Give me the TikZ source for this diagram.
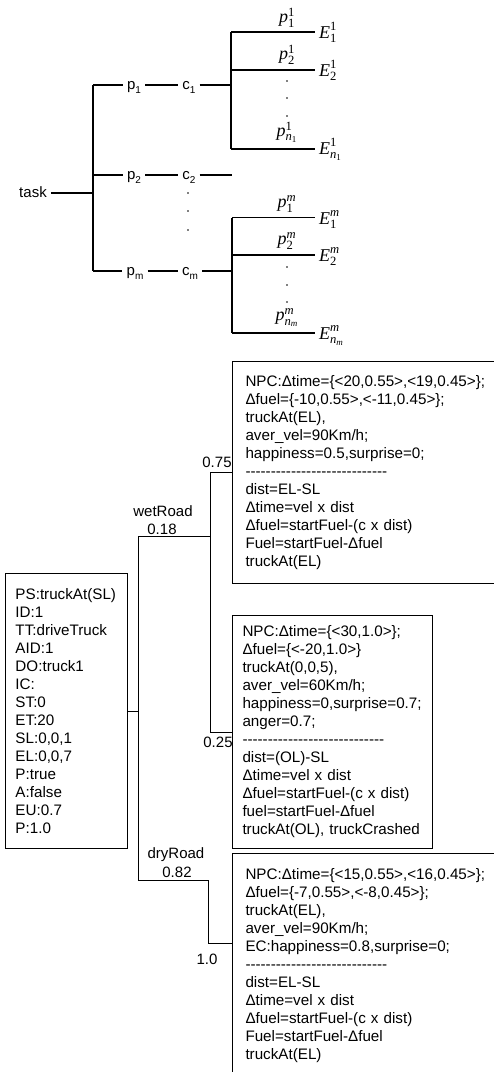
\documentclass[tikz,border=0pt]{standalone}
\usepackage{amsmath}
\usepackage[no-math]{fontspec}
\setmainfont{Liberation Sans}
\newfontfamily\tnrfont{Liberation Serif}
\newcommand\mi[1]{\text{\tnrfont\itshape #1}}
\newcommand\mr[1]{\text{\tnrfont #1}}
\newcommand\lsub[1]{\raisebox{-3.5pt}{\fontsize{10}{10}\selectfont #1}}
\newcommand\hy{-\kern0pt}
\newcommand\dashrow{\hy\hy\hy\hy\hy\hy\hy\hy\hy\hy\hy\hy\hy\hy\hy\hy\hy\hy\hy\hy\hy\hy\hy\hy\hy\hy\hy\hy}
\begin{document}
\begin{tikzpicture}[x=1pt,y=-1pt,
  lbl/.style={inner sep=0pt, font=\fontsize{15}{17}\selectfont},
  rowlbl/.style={lbl, inner xsep=4pt, anchor=base},
  mth/.style={inner sep=0pt, font=\fontsize{18}{20}\selectfont},
  eend/.style={mth, inner xsep=4pt, anchor=base west},
  plab/.style={mth, anchor=south},
  tl/.style={line width=1.3pt},
  bl/.style={line width=0.8pt},
  infobox/.style={draw, line width=1pt, align=left, anchor=north west, inner ysep=0pt, font=\fontsize{15.2}{18}\selectfont},
  dotn/.style={circle, fill, inner sep=0pt, minimum size=1.8pt}]
\useasboundingbox (0,0) rectangle (494,1072);
\clip (0,0) rectangle (494,1072);

% ---------------- top tree ----------------
\node[rowlbl] (task) at (33,197.5) {task};
\coordinate (j0) at (93,193);
\coordinate (j0t) at (93,85);
\coordinate (j0m) at (93,175);
\coordinate (j0b) at (93,271);
\draw[tl] (j0 -| task.east) -- (j0);
\draw[tl] (j0t) -- (j0b);

\node[rowlbl] (p1) at (134,89.5) {p\lsub{1}};
\node[rowlbl] (c1) at (189,89.5) {c\lsub{1}};
\node[rowlbl] (p2) at (134,179.5) {p\lsub{2}};
\node[rowlbl] (c2) at (189,179.5) {c\lsub{2}};
\node[rowlbl] (pm) at (135,275.5) {p\lsub{m}};
\node[rowlbl] (cm) at (190,275.5) {c\lsub{m}};
\coordinate (j1) at (231,85);
\coordinate (c2e) at (232,175);
\coordinate (j2) at (232,271);

\draw[tl] (j0t) -- (j0t -| p1.west) (j0t -| p1.east) -- (j0t -| c1.west) (j0t -| c1.east) -- (j1);
\draw[tl] (j0m) -- (j0m -| p2.west) (j0m -| p2.east) -- (j0m -| c2.west) (j0m -| c2.east) -- (c2e);
\draw[tl] (j0b) -- (j0b -| pm.west) (j0b -| pm.east) -- (j0b -| cm.west) (j0b -| cm.east) -- (j2);

\node[dotn] (v1) at (188,193) {};
\node[dotn] (v2) at (188,211) {};
\node[dotn] (v3) at (188,230) {};

% cluster 1
\coordinate (k11) at (231,32);
\coordinate (k12) at (231,70);
\coordinate (k1n) at (231,149);
\draw[tl] (k11) -- (k1n);
\node[eend] (E11) at (315,38) {$\mi{E}^{\mr{1}}_{\mr{1}}$};
\node[eend] (E12) at (315,76) {$\mi{E}^{\mr{1}}_{\mr{2}}$};
\node[eend] (E1n) at (315,154) {$\mi{E}^{\mr{1}}_{\mi{n}_{\mr{1}}}$};
\draw[tl] (k11) -- (k11 -| E11.west);
\draw[tl] (k12) -- (k12 -| E12.west);
\draw[tl] (k1n) -- (k1n -| E1n.west);
\node[plab] (q11) at (287,28) {$\mi{p}^{\mr{1}}_{\mr{1}}$};
\node[plab] (q12) at (287,65) {$\mi{p}^{\mr{1}}_{\mr{2}}$};
\node[plab] (q1n) at (287,143) {$\mi{p}^{\mr{1}}_{\mi{n}_{\mr{1}}}$};
\node[dotn] (u1) at (287,81) {};
\node[dotn] (u2) at (287,98) {};
\node[dotn] (u3) at (287,116) {};

% cluster m
\coordinate (km1) at (232,217.5);
\coordinate (km2) at (232,255);
\coordinate (kmn) at (232,333);
\draw[tl] (km1) -- (kmn);
\node[eend] (Em1) at (315,224) {$\mi{E}^{\mi{m}}_{\mr{1}}$};
\node[eend] (Em2) at (315,261) {$\mi{E}^{\mi{m}}_{\mr{2}}$};
\node[eend] (Emn) at (315,339) {$\mi{E}^{\mi{m}}_{\mi{n}_{\mi{m}}}$};
\draw[tl] (km1) -- (km1 -| Em1.west);
\draw[tl] (km2) -- (km2 -| Em2.west);
\draw[tl] (kmn) -- (kmn -| Emn.west);
\node[plab] (qm1) at (287,213) {$\mi{p}^{\mi{m}}_{\mr{1}}$};
\node[plab] (qm2) at (287,250) {$\mi{p}^{\mi{m}}_{\mr{2}}$};
\node[plab] (qmn) at (287,327) {$\mi{p}^{\mi{m}}_{\mi{n}_{\mi{m}}}$};
\node[dotn] (w1) at (287,267) {};
\node[dotn] (w2) at (287,285) {};
\node[dotn] (w3) at (287,302) {};

% ---------------- bottom tree ----------------
\node[infobox, text width=102pt, inner xsep=10pt, minimum height=275pt] (s0) at (5,573)
 {PS:truckAt(SL)\\ID:1\\TT:driveTruck\\AID:1\\DO:truck1\\IC:\\ST:0\\ET:20\\SL:0,0,1\\EL:0,0,7\\P:true\\A:false\\EU:0.7\\P:1.0};

\node[infobox, text width=260pt, inner xsep=13pt, minimum height=222pt] (b1) at (232,361)
 {NPC:Δtime=\{<20,0.55>,<19,0.45>\};\\Δfuel=\{-10,0.55>,<-11,0.45>\};\\truckAt(EL),\\aver\_vel=90Km/h;\\happiness=0.5,surprise=0;\\\dashrow\\dist=EL-SL\\Δtime=vel x dist\\Δfuel=startFuel-(c x dist)\\Fuel=startFuel-Δfuel\\truckAt(EL)};

\node[infobox, text width=180pt, inner xsep=10pt, minimum height=233pt] (b2) at (232,615)
 {NPC:Δtime=\{<30,1.0>\};\\Δfuel=\{<-20,1.0>\}\\truckAt(0,0,5),\\aver\_vel=60Km/h;\\happiness=0,surprise=0.7;\\anger=0.7;\\\dashrow\\dist=(OL)-SL\\Δtime=vel x dist\\Δfuel=startFuel-(c x dist)\\fuel=startFuel-Δfuel\\truckAt(OL), truckCrashed};

\node[infobox, text width=260pt, inner xsep=13pt, minimum height=224pt] (b3) at (232,853)
 {NPC:Δtime=\{<15,0.55>,<16,0.45>\};\\Δfuel=\{-7,0.55>,<-8,0.45>\};\\truckAt(EL),\\aver\_vel=90Km/h;\\EC:happiness=0.8,surprise=0;\\\dashrow\\dist=EL-SL\\Δtime=vel x dist\\Δfuel=startFuel-(c x dist)\\Fuel=startFuel-Δfuel\\truckAt(EL)};

\coordinate (vt) at (138,536);
\coordinate (vb) at (138,880);
\coordinate (wj) at (210,536);
\coordinate (wt) at (210,472);
\coordinate (wb) at (210,732);
\coordinate (dj) at (208,880);
\coordinate (db) at (208,943);
\draw[bl] (s0.east) -- (s0.east -| vt);
\draw[bl] (vt) -- (vb);
\draw[bl] (vt) -- (wj);
\draw[bl] (wt) -- (wb);
\draw[bl] (wt) -- (wt -| b1.west);
\draw[bl] (wb) -- (wb -| b2.west);
\draw[bl] (vb) -- (dj) -- (db) -- (db -| b3.west);

\node[lbl] (wet) at (163,511) {wetRoad};
\node[lbl] (pw) at (162,529) {0.18};
\node[lbl] (p75) at (217,462) {0.75};
\node[lbl] (p25) at (218,742) {0.25};
\node[lbl] (dry) at (176,855) {dryRoad};
\node[lbl] (pd) at (177,872) {0.82};
\node[lbl] (p10) at (207,959) {1.0};
\end{tikzpicture}
\end{document}
